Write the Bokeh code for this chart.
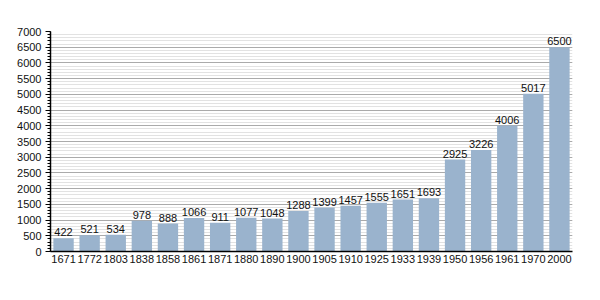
from bokeh.plotting import figure
from bokeh.models import ColumnDataSource, SingleIntervalTicker, FactorRange, LabelSet
from bokeh.core.properties import value
from bokeh.embed import file_html
from bokeh.resources import INLINE

years = ["1671", "1772", "1803", "1838", "1858", "1861", "1871", "1880", "1890", "1900",
         "1905", "1910", "1925", "1933", "1939", "1950", "1956", "1961", "1970", "2000"]
population = [422, 521, 534, 978, 888, 1066, 911, 1077, 1048, 1288,
              1399, 1457, 1555, 1651, 1693, 2925, 3226, 4006, 5017, 6500]

FONT = "Liberation Sans"

src = ColumnDataSource(dict(x=years, y=population, label=[str(v) for v in population]))

p = figure(x_range=FactorRange(*years), y_range=(0, 7000),
           width=600, height=300, output_backend="svg", toolbar_location=None,
           min_border_left=50, min_border_right=28, min_border_top=31, min_border_bottom=49)
p.x_range.range_padding = 0.0
p.x_range.factor_padding = 0.0

p.vbar(x="x", top="y", width=0.78, source=src, fill_color="#9ab3cd", line_color=None)

labels = LabelSet(x="x", y="y", text="label", source=src, text_align="center",
                  text_baseline="bottom", y_offset=2, text_font_size=value("11px"),
                  text_font=value(FONT), text_color="#111111")
p.add_layout(labels)

p.yaxis.ticker = SingleIntervalTicker(interval=500, num_minor_ticks=5)
p.ygrid.grid_line_color = "#aaaaaa"
p.ygrid.grid_line_width = 1
p.ygrid.minor_grid_line_color = "#e2e2e2"
p.xgrid.grid_line_color = None

p.outline_line_color = None
p.background_fill_color = "white"
p.border_fill_color = "white"

for ax in (p.xaxis, p.yaxis):
    ax.axis_line_color = "black"
    ax.axis_line_width = 1.5
    ax.major_label_text_font = FONT
    ax.major_label_text_font_size = "11px"
    ax.major_label_text_color = "#111111"
    ax.major_tick_line_color = "black"
    ax.minor_tick_line_color = "black"

p.xaxis.major_tick_line_color = None
p.xaxis.minor_tick_line_color = None
p.xaxis.major_tick_out = 0
p.xaxis.major_tick_in = 0
p.xaxis.minor_tick_out = 0
p.xaxis.major_label_standoff = 3
p.yaxis.major_tick_in = 0
p.yaxis.major_tick_out = 5
p.yaxis.minor_tick_in = 0
p.yaxis.minor_tick_out = 3
p.yaxis.major_label_standoff = 4

open("out.html", "w").write(file_html(p, INLINE))
